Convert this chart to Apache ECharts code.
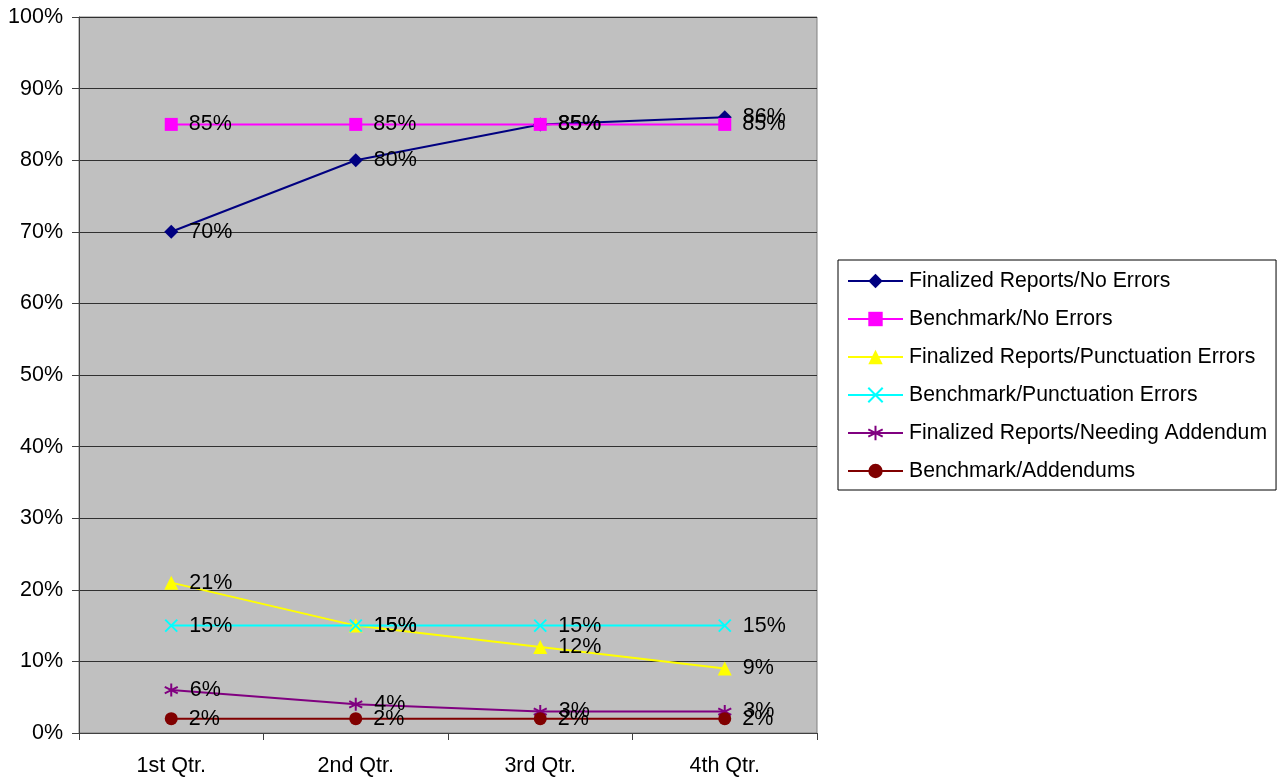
<!DOCTYPE html>
<html>
<head>
<meta charset="utf-8">
<script src="https://cdn.jsdelivr.net/npm/echarts@6/dist/echarts.min.js"></script>
<style>
  html, body { margin: 0; padding: 0; background: #ffffff; }
  #chart { width: 1287px; height: 777px; }
</style>
</head>
<body>
<div id="chart"></div>
<script>
// Quarterly report quality vs. benchmarks (percent)
const quarters = ['1st Qtr.', '2nd Qtr.', '3rd Qtr.', '4th Qtr.'];

const finalizedNoErrors = [70, 80, 85, 86];
const benchmarkNoErrors = [85, 85, 85, 85];
const finalizedPunctuation = [21, 15, 12, 9];
const benchmarkPunctuation = [15, 15, 15, 15];
const finalizedAddendum = [6, 4, 3, 3];
const benchmarkAddendums = [2, 2, 2, 2];

const yTicks = { min: 0, max: 100, interval: 10 };

const FONT = 'Liberation Sans, Arial, sans-serif';

// stroke-only marker shapes
const X_PATH = 'path://M0,0L10,10M10,0L0,10';
const STAR_PATH = 'path://M5,0L5,10M0,2.5L10,7.5M10,2.5L0,7.5';

function makeSeries(name, data, color, symbol, size, stroked) {
  return {
    name: name,
    type: 'line',
    data: data,
    symbol: symbol,
    symbolSize: size,
    showAllSymbol: true,
    lineStyle: { color: color, width: 2 },
    itemStyle: stroked
      ? { color: 'rgba(0,0,0,0)', borderColor: color, borderWidth: 2 }
      : { color: color, borderWidth: 0 },
    label: {
      show: true,
      position: 'right',
      distance: 11,
      formatter: '{c}%',
      color: '#000000',
      fontFamily: FONT,
      fontSize: 21.5
    },
    emphasis: { disabled: true },
    animation: false
  };
}

const chart = echarts.init(document.getElementById('chart'), null, { renderer: 'canvas' });

chart.setOption({
  backgroundColor: '#ffffff',
  animation: false,
  grid: {
    left: 79, top: 17, right: 470, bottom: 44,
    show: true,
    backgroundColor: '#C0C0C0',
    borderColor: '#808080',
    borderWidth: 1
  },
  xAxis: {
    type: 'category',
    data: quarters,
    boundaryGap: true,
    axisLine: { lineStyle: { color: '#404040', width: 1 } },
    axisTick: { show: true, length: 7, lineStyle: { color: '#404040' } },
    axisLabel: { color: '#000000', fontFamily: FONT, fontSize: 21.5, margin: 22 },
    splitLine: { show: false }
  },
  yAxis: {
    type: 'value',
    min: yTicks.min,
    max: yTicks.max,
    interval: yTicks.interval,
    axisLine: { show: true, lineStyle: { color: '#404040', width: 1 } },
    axisTick: { show: true, length: 7, lineStyle: { color: '#404040' } },
    axisLabel: { color: '#000000', fontFamily: FONT, fontSize: 21.5, margin: 16, formatter: '{value}%' },
    splitLine: { show: true, lineStyle: { color: '#303030', width: 1 } }
  },
  legend: {
    orient: 'vertical',
    left: 838,
    top: 260,
    padding: [10, 9, 8, 9],
    backgroundColor: '#ffffff',
    borderColor: '#000000',
    borderWidth: 1,
    itemWidth: 55,
    itemHeight: 18,
    itemGap: 16,
    textStyle: { color: '#000000', fontFamily: FONT, fontSize: 21.2, lineHeight: 22, padding: [0, 0, 0, 1] },
    selectedMode: false,
    data: [
      'Finalized Reports/No Errors',
      'Benchmark/No Errors',
      'Finalized Reports/Punctuation Errors',
      'Benchmark/Punctuation Errors',
      'Finalized Reports/Needing Addendum',
      'Benchmark/Addendums'
    ]
  },
  series: [
    makeSeries('Finalized Reports/No Errors', finalizedNoErrors, '#000080', 'diamond', 14, false),
    makeSeries('Benchmark/No Errors', benchmarkNoErrors, '#FF00FF', 'rect', 13, false),
    makeSeries('Finalized Reports/Punctuation Errors', finalizedPunctuation, '#FFFF00', 'triangle', 14, false),
    makeSeries('Benchmark/Punctuation Errors', benchmarkPunctuation, '#00FFFF', X_PATH, 12, true),
    makeSeries('Finalized Reports/Needing Addendum', finalizedAddendum, '#800080', STAR_PATH, 13, true),
    makeSeries('Benchmark/Addendums', benchmarkAddendums, '#800000', 'circle', 13, false)
  ]
});
</script>
</body>
</html>
